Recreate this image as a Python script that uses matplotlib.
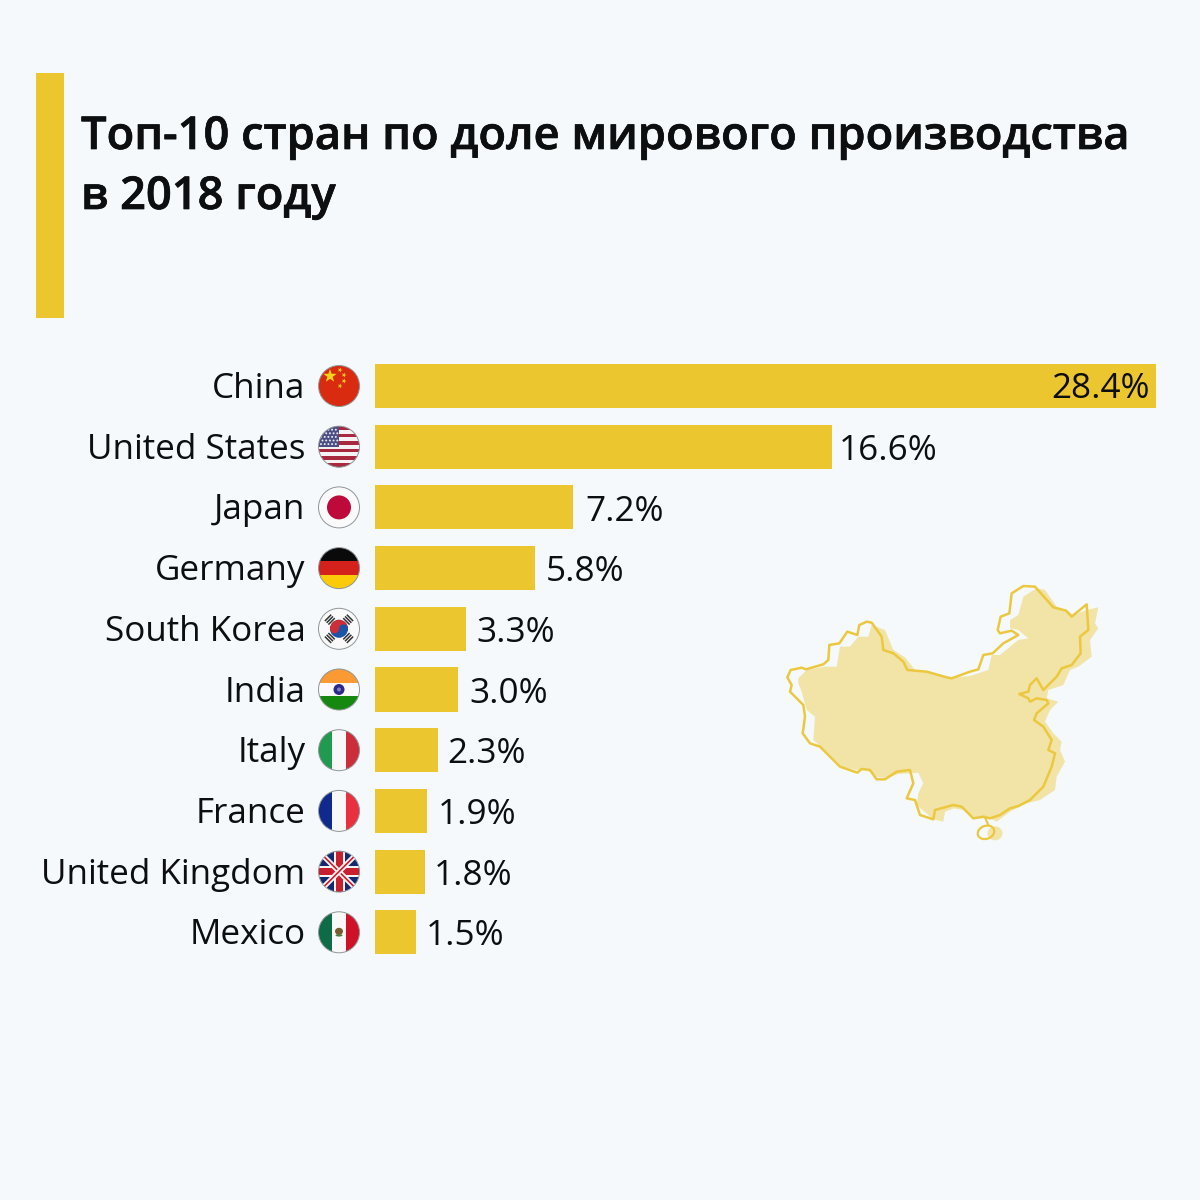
import numpy as np
import matplotlib
matplotlib.use('Agg')
import matplotlib.pyplot as plt
import matplotlib.patheffects as pe
from matplotlib.patches import Circle, Rectangle, Polygon, Ellipse, Wedge
from matplotlib.transforms import ScaledTranslation

plt.rcParams['font.family'] = ['Open Sans', 'Noto Sans', 'DejaVu Sans']

countries = ['China', 'United States', 'Japan', 'Germany', 'South Korea',
             'India', 'Italy', 'France', 'United Kingdom', 'Mexico']
shares = [28.4, 16.6, 7.2, 5.8, 3.3, 3.0, 2.3, 1.9, 1.8, 1.5]
title_lines = ['Топ-10 стран по доле мирового производства', 'в 2018 году']

BG = '#f5f9fb'
YELLOW = '#ebc62f'
INK = '#0c0e10'
MAP_LINE = '#ebc83f'
MAP_FILL = '#f1e4a6'

# контур карты (zoom x3 от точки 770,570)
map_outline = [(52,322),(62,300),(95,293),(108,298),(160,283),(175,270),(178,225),(208,220),(232,185),
    (262,195),(268,165),(290,155),(305,158),(335,200),(340,240),(370,250),(400,275),(412,300),(470,305),
    (530,322),(545,325),(600,305),(625,298),(640,255),(668,250),(700,220),(745,195),(725,182),(690,190),
    (683,180),(692,140),(718,130),(725,70),(760,48),(795,50),(850,112),(888,122),(905,140),(950,103),
    (955,180),(930,200),(932,250),(905,285),(875,295),(860,320),(820,360),(800,325),(780,345),(775,365),
    (748,372),(775,385),(780,395),(800,385),(830,390),(835,400),(800,430),(792,450),(820,470),(845,510),
    (835,540),(855,550),(845,590),(820,650),(800,670),(780,690),(745,708),(720,715),(690,735),(660,745),
    (640,740),(610,745),(575,710),(550,705),(495,720),(490,748),(450,735),(435,690),(410,685),(430,640),
    (420,600),(380,605),(345,628),(320,628),(300,600),(275,597),(262,608),(210,590),(150,530),(120,520),
    (98,490),(105,440),(100,405),(60,365),(65,345)]
map_fill = [(85,325),(110,300),(165,290),(200,290),(210,230),(240,230),(265,200),(295,200),(305,165),
    (345,180),(370,240),(405,262),(435,300),(480,305),(530,325),(600,318),(655,300),(665,255),(690,255),
    (745,210),(775,205),(745,180),(720,175),(720,150),(745,135),(760,80),(800,55),(825,60),(860,110),
    (890,120),(910,135),(950,120),(985,112),(975,160),(985,175),(960,210),(965,260),(925,290),(900,300),
    (880,345),(835,360),(830,385),(865,395),(840,420),(825,455),(850,490),(875,515),(870,540),(885,575),
    (860,620),(855,660),(810,690),(770,700),(720,725),(680,755),(660,745),(620,745),(580,720),(552,715),
    (525,725),(520,755),(490,748),(475,735),(440,705),(445,670),(460,640),(445,608),(420,610),(385,612),
    (350,625),(320,620),(290,600),(260,600),(215,590),(175,550),(130,510),(135,440),(110,420),(95,365),(85,340)]

# сдвиг подписей значений в пунктах, чтобы лечь как на картинке
label_nudge = [0, -1.5, 2, 1, 1, 1.5, -0.5, 0.5, 0, 0]


def to_px(points):
    return [(770 + x / 3, 570 + y / 3) for x, y in points]


fig = plt.figure(figsize=(12, 12), dpi=100, facecolor=BG)

# оверлей в пикселях для заголовка, карты и флагов
over = fig.add_axes([0, 0, 1, 1], zorder=2)
over.set_xlim(0, 1200)
over.set_ylim(1200, 0)
over.axis('off')

over.add_patch(Rectangle((36, 73), 28, 245, color=YELLOW, lw=0))
for line, base in zip(title_lines, (149, 209)):
    t = over.text(81, base, line, fontsize=32.6, fontweight=600, color=INK, va='baseline')
    t.set_path_effects([pe.withStroke(linewidth=0.5, foreground=INK)])

# карта
over.add_patch(Polygon(to_px(map_fill), closed=True, fc=MAP_FILL, ec='none'))
over.add_patch(Ellipse((770 + 675 / 3, 570 + 790 / 3), 15, 14, fc=MAP_FILL, ec='none'))
over.add_patch(Polygon(to_px(map_outline), closed=True, fc='none', ec=MAP_LINE, lw=1.8, joinstyle='round'))
over.add_patch(Ellipse((770 + 648 / 3, 570 + 787 / 3), 17, 13, angle=-20, fc='none', ec=MAP_LINE, lw=1.6))
over.plot([770 + 645 / 3, 770 + 655 / 3], [570 + 742 / 3, 570 + 765 / 3], color=MAP_LINE, lw=1.5)

# столбцы
ROW0, STEP = 386.0, 60.7
FLAG_X, FLAG_R = 339, 20.5
top = ROW0 - STEP / 2
bottom = ROW0 + STEP * 9.5
ax = fig.add_axes([375 / 1200, 1 - bottom / 1200, 781 / 1200, (bottom - top) / 1200], zorder=1)
ax.set_facecolor('none')
y = np.arange(len(countries))
ax.barh(y, shares, height=0.725, color=YELLOW)
ax.set_xlim(0, 28.4)
ax.set_ylim(9.5, -0.5)
ax.set_yticks(y, countries, fontsize=25.2, color=INK)
ax.set_xticks([])
ax.tick_params(axis='y', length=0, pad=50)
for lab in ax.get_yticklabels():
    lab.set_transform(lab.get_transform() + ScaledTranslation(0, 0.7 / 72, fig.dpi_scale_trans))
for s in ax.spines.values():
    s.set_visible(False)
for i, v in enumerate(shares):
    if i == 0:
        ax.annotate(f'{v}%', (v, i), xytext=(-4.5, -2.5), textcoords='offset points',
                    ha='right', va='center', fontsize=25.3, color=INK)
    else:
        ax.annotate(f'{v}%', (v, i), xytext=(7 + label_nudge[i], -3), textcoords='offset points',
                    ha='left', va='center', fontsize=25.3, color=INK)


def add_clipped(art, clip):
    over.add_patch(art)
    art.set_clip_path(clip)


def clipped_line(xs, ys, clip, **kw):
    ln, = over.plot(xs, ys, solid_capstyle='butt', **kw)
    ln.set_clip_path(clip)


def flag_stripes(clip, cy, colors, vertical=False):
    d = 2 * FLAG_R / len(colors)
    for k, c in enumerate(colors):
        if vertical:
            r = Rectangle((FLAG_X - FLAG_R + k * d, cy - FLAG_R), d + 0.3, 2 * FLAG_R, fc=c, lw=0)
        else:
            r = Rectangle((FLAG_X - FLAG_R, cy - FLAG_R + k * d), 2 * FLAG_R, d + 0.3, fc=c, lw=0)
        add_clipped(r, clip)


def star(x, y, r, color, angle=0):
    pts = []
    for k in range(10):
        rad = r if k % 2 == 0 else r * 0.4
        a = np.radians(-90 + 36 * k + angle)
        pts.append((x + rad * np.cos(a), y + rad * np.sin(a)))
    return Polygon(pts, closed=True, fc=color, lw=0)


def draw_flag(name, cy):
    clip = Circle((FLAG_X, cy), FLAG_R, transform=over.transData)
    X = FLAG_X
    if name == 'China':
        flag_stripes(clip, cy, ['#d92b10'])
        add_clipped(star(X - 9, cy - 10, 7, '#f7d31c'), clip)
        for dx, dy in [(1, -16), (5, -11), (5, -5), (1, 0)]:
            add_clipped(star(X + dx, cy + dy, 2.6, '#f2c82a', 20), clip)
    elif name == 'United States':
        stripes = ['#a8283f' if k % 2 == 0 else '#f4f2f2' for k in range(11)]
        flag_stripes(clip, cy, stripes)
        add_clipped(Rectangle((X - FLAG_R, cy - FLAG_R), FLAG_R, FLAG_R, fc='#4a4e82', lw=0), clip)
        for row in range(5):
            for col in range(5):
                add_clipped(Circle((X - 18 + col * 3.7 + (row % 2) * 1.5, cy - 17 + row * 3.6), 1.0,
                                   fc='#e8e8f2', lw=0), clip)
    elif name == 'Japan':
        flag_stripes(clip, cy, ['#fafafa'])
        add_clipped(Circle((X, cy), 12, fc='#be0a3a', lw=0), clip)
    elif name == 'Germany':
        flag_stripes(clip, cy, ['#0a0a0a', '#d4211c', '#fbcb0a'])
    elif name == 'South Korea':
        flag_stripes(clip, cy, ['#fafafa'])
        add_clipped(Circle((X, cy), 9, fc='#1c55a5', lw=0), clip)
        add_clipped(Wedge((X, cy), 9, 180, 360, fc='#cd2e3a', lw=0), clip)
        add_clipped(Circle((X - 4.5, cy), 4.5, fc='#cd2e3a', lw=0), clip)
        add_clipped(Circle((X + 4.5, cy), 4.5, fc='#1c55a5', lw=0), clip)
        for sx, sy in [(-1, -1), (1, -1), (-1, 1), (1, 1)]:
            # три полоски триграммы поперёк радиуса
            for off in (10.5, 13, 15.5):
                cx, cyy = X + sx * off * 0.707, cy + sy * off * 0.707
                dx, dy = -sy * 0.707 * 4.5, sx * 0.707 * 4.5
                clipped_line([cx - dx, cx + dx], [cyy - dy, cyy + dy], clip, color='#333333', lw=1.1)
    elif name == 'India':
        flag_stripes(clip, cy, ['#f99a33', '#fafafa', '#16870f'])
        add_clipped(Circle((X, cy), 5.5, fc='#2b2a8c', lw=0), clip)
        add_clipped(Circle((X, cy), 2, fc='#7f7fc0', lw=0), clip)
    elif name == 'Italy':
        flag_stripes(clip, cy, ['#1f9a4e', '#f8f8f8', '#cd2d3a'], vertical=True)
    elif name == 'France':
        flag_stripes(clip, cy, ['#0f2a8c', '#f8f8f8', '#ea2f3e'], vertical=True)
    elif name == 'United Kingdom':
        flag_stripes(clip, cy, ['#14296e'])
        for sign in (1, -1):
            xs = [X - FLAG_R, X + FLAG_R]
            ys = [cy - sign * FLAG_R, cy + sign * FLAG_R]
            clipped_line(xs, ys, clip, color='#f5f5f5', lw=3.8)
            clipped_line(xs, ys, clip, color='#c8202f', lw=1.2)
        add_clipped(Rectangle((X - 5.5, cy - FLAG_R), 11, 2 * FLAG_R, fc='#f5f5f5', lw=0), clip)
        add_clipped(Rectangle((X - FLAG_R, cy - 5.5), 2 * FLAG_R, 11, fc='#f5f5f5', lw=0), clip)
        add_clipped(Rectangle((X - 3.5, cy - FLAG_R), 7, 2 * FLAG_R, fc='#c8202f', lw=0), clip)
        add_clipped(Rectangle((X - FLAG_R, cy - 3.5), 2 * FLAG_R, 7, fc='#c8202f', lw=0), clip)
    elif name == 'Mexico':
        flag_stripes(clip, cy, ['#0d6b47', '#f8f8f8', '#ce1126'], vertical=True)
        add_clipped(Ellipse((X, cy - 1), 8, 7, fc='#7a5a2c', lw=0), clip)
        add_clipped(Ellipse((X, cy + 3), 7, 2.5, fc='#4f7a3c', lw=0), clip)
    # тонкая серая обводка
    over.add_patch(Circle((X, cy), FLAG_R, fc='none', ec='#8f9599', lw=0.7))


for i, name in enumerate(countries):
    draw_flag(name, ROW0 + STEP * i)

fig.savefig('out.png', dpi=100, facecolor=BG)
